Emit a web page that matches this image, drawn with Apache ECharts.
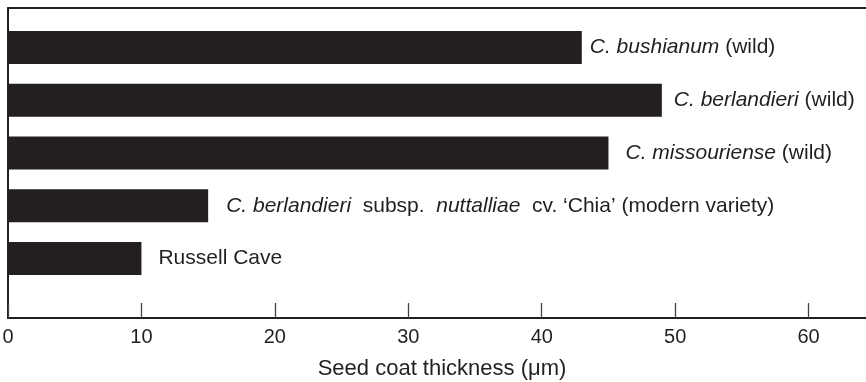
<!DOCTYPE html>
<html>
<head>
<meta charset="utf-8">
<script src="https://cdn.jsdelivr.net/npm/echarts@6/dist/echarts.min.js"></script>
<style>
  html, body { margin: 0; padding: 0; background: #fff; }
  #chart { width: 866px; height: 382px; }
</style>
</head>
<body>
<div id="chart"></div>
<script>
// Seed coat thickness by taxon (µm)
const categories = [
  'C. bushianum (wild)',
  'C. berlandieri (wild)',
  'C. missouriense (wild)',
  "C. berlandieri subsp. nuttalliae cv. 'Chia' (modern variety)",
  'Russell Cave'
];
const thickness = [43, 49, 45, 15, 10];

// Label text split into italic (i) and upright (n) runs
const labelParts = [
  [['i', 'C. bushianum'], ['n', ' (wild)']],
  [['i', 'C. berlandieri'], ['n', ' (wild)']],
  [['i', 'C. missouriense'], ['n', ' (wild)']],
  [['i', 'C. berlandieri'], ['n', '  subsp.  '], ['i', 'nuttalliae'], ['n', '  cv. \u2018Chia\u2019 (modern variety)']],
  [['n', 'Russell Cave']]
];
const labelGap = [8, 12, 17, 18, 17];

const xTicks = [0, 10, 20, 30, 40, 50, 60];
const xMax = 64.3;

const ink = '#231f20';
const font = "'Liberation Sans', Arial, Helvetica, sans-serif";

const chart = echarts.init(document.getElementById('chart'));

const barData = thickness.map((v, i) => ({
  value: v,
  label: {
    distance: labelGap[i],
    formatter: labelParts[i].map(p => '{' + p[0] + '|' + p[1] + '}').join('')
  }
}));

chart.setOption({
  animation: false,
  backgroundColor: '#fff',
  grid: [
    { left: 8, right: 0, top: 8, bottom: 64, containLabel: false, outerBoundsMode: 'none' },
    { left: 8, right: 0, top: 21, height: 264, containLabel: false, outerBoundsMode: 'none' }
  ],
  xAxis: [
    {
      gridIndex: 0, type: 'value', min: 0, max: xMax, position: 'bottom',
      axisLine: { show: true, onZero: false, lineStyle: { color: ink, width: 2 } },
      axisTick: { show: true, inside: true, length: 15, customValues: xTicks, lineStyle: { color: '#444', width: 1.3 } },
      axisLabel: { customValues: xTicks, color: ink, fontSize: 20, fontFamily: font, margin: 9 },
      splitLine: { show: false },
      name: 'Seed coat thickness (\u03bcm)',
      nameLocation: 'middle', nameGap: 40,
      nameTextStyle: { color: ink, fontSize: 22, fontFamily: font, padding: [0, 0, 0, 10] }
    },
    {
      gridIndex: 0, type: 'value', min: 0, max: xMax, position: 'top',
      axisLine: { show: true, onZero: false, lineStyle: { color: ink, width: 2 } },
      axisTick: { show: false }, axisLabel: { show: false }, splitLine: { show: false }
    },
    {
      gridIndex: 1, type: 'value', min: 0, max: xMax, show: false
    }
  ],
  yAxis: [
    {
      gridIndex: 0, type: 'value', min: 0, max: 1,
      axisLine: { show: true, onZero: false, lineStyle: { color: ink, width: 2 } },
      axisTick: { show: false }, axisLabel: { show: false }, splitLine: { show: false }
    },
    {
      gridIndex: 1, type: 'category', data: categories, inverse: true, show: false
    }
  ],
  series: [{
    type: 'bar',
    xAxisIndex: 2,
    yAxisIndex: 1,
    data: barData,
    barWidth: 33,
    itemStyle: { color: ink },
    label: {
      show: true,
      position: 'right',
      color: ink,
      fontFamily: font,
      fontSize: 21,
      rich: {
        i: { fontStyle: 'italic', color: ink, fontSize: 21, fontFamily: font },
        n: { color: ink, fontSize: 21, fontFamily: font }
      }
    }
  }]
});
</script>
</body>
</html>
